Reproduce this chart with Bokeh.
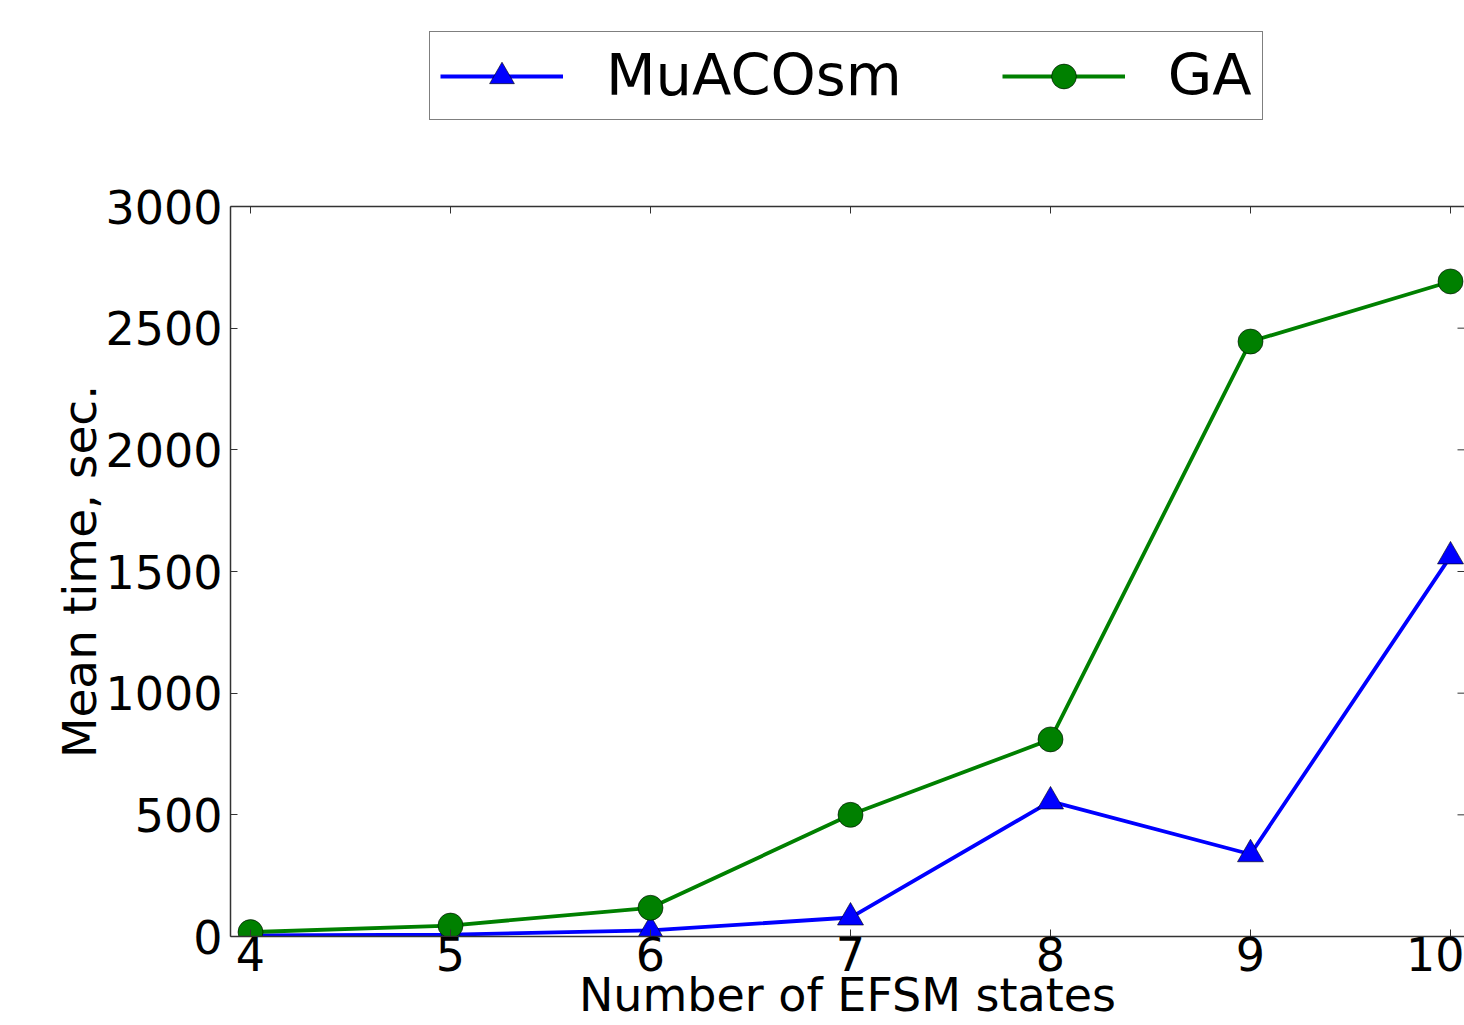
from bokeh.plotting import figure
from bokeh.layouts import column
from bokeh.models import Legend, LegendItem, LinearAxis, FixedTicker, Range1d
from bokeh.embed import file_html
from bokeh.resources import INLINE

# ---- data ----
states = [4, 5, 6, 7, 8, 9, 10]
muacosm = [4, 8, 25, 78, 555, 338, 1562]
ga = [18, 45, 118, 500, 810, 2445, 2692]
y_ticks = [0, 500, 1000, 1500, 2000, 2500, 3000]
series_names = ["MuACOsm", "GA"]
x_label = "Number of EFSM states"
y_label = "Mean time, sec."

FONT = "DejaVu Sans"
BLUE = "#0000ff"
GREEN = "#008000"
SPINE = "#333333"

X0, X1 = 3.9, 10.07
Y0, Y1 = 0, 3000
FRAME_W, FRAME_H = 1234, 730
FRAME_LEFT = 230
TICK = 7  # px, inward ticks

LINE_W = 3.8
TRI = dict(marker="triangle", size=26, fill_color=BLUE, line_color="black", line_width=0.6)
CIR = dict(marker="circle", size=25, fill_color=GREEN, line_color="black", line_width=0.6)

# ---------------- legend strip ----------------
LEG_H = 150
leg = figure(width=1464, height=LEG_H, x_range=Range1d(100, 101), y_range=Range1d(100, 101),
             output_backend="svg", toolbar_location=None,
             x_axis_location=None, y_axis_location=None, min_border=0)
leg.outline_line_color = None
leg.grid.visible = False
# same series, kept outside this strip's view: only their legend keys show
kl1 = leg.line(states, muacosm, line_color=BLUE, line_width=LINE_W)
ks1 = leg.scatter(states, muacosm, **TRI)
kl2 = leg.line(states, ga, line_color=GREEN, line_width=LINE_W)
ks2 = leg.scatter(states, ga, **CIR)
legend = Legend(items=[LegendItem(label=series_names[0], renderers=[kl1, ks1]),
                       LegendItem(label=series_names[1], renderers=[kl2, ks2])],
                orientation="horizontal", location=(429 - FRAME_LEFT, LEG_H - 120),
                label_text_font=FONT, label_text_font_size="57.5px",
                label_text_color="black",
                glyph_width=123, glyph_height=62, label_standoff=43,
                spacing=100, padding=10, margin=0,
                border_line_color="black", border_line_width=1.5,
                background_fill_color="white", background_fill_alpha=1)
leg.add_layout(legend, "center")

# ---------------- main plot ----------------
p = figure(width=1464, height=1025 - LEG_H,
           x_range=Range1d(X0, X1), y_range=Range1d(Y0, Y1),
           output_backend="svg", toolbar_location=None,
           min_border_left=FRAME_LEFT, min_border_right=0,
           min_border_top=206 - LEG_H, min_border_bottom=89)
p.outline_line_color = None
p.grid.visible = False

for ax in (p.xaxis[0], p.yaxis[0]):
    ax.major_label_text_font = FONT
    ax.major_label_text_font_size = "46px"
    ax.major_label_text_color = "black"
    ax.major_tick_in = TICK
    ax.major_tick_out = 0
    ax.minor_tick_line_color = None
    ax.axis_line_color = SPINE
    ax.axis_line_width = 1.5
    ax.major_tick_line_color = SPINE
    ax.major_tick_line_width = 1
    ax.axis_label_text_font = FONT
    ax.axis_label_text_font_size = "46px"
    ax.axis_label_text_font_style = "normal"
    ax.axis_label_text_color = "black"

p.xaxis[0].ticker = FixedTicker(ticks=states)
p.xaxis[0].major_label_standoff = 0
p.xaxis[0].axis_label = x_label
p.xaxis[0].axis_label_standoff = -6

p.yaxis[0].ticker = FixedTicker(ticks=y_ticks)
p.yaxis[0].major_label_standoff = 8
p.yaxis[0].axis_label = y_label
p.yaxis[0].axis_label_text_font_size = "47px"
p.yaxis[0].axis_label_standoff = -5

# top spine (ticks drawn below)
top = LinearAxis(ticker=FixedTicker(ticks=[]), axis_line_color=SPINE, axis_line_width=1.5,
                 major_tick_in=0, major_tick_out=0, minor_tick_line_color=None)
p.add_layout(top, "above")

# inward ticks along the top and right edges, at the same tick positions
dy = TICK * (Y1 - Y0) / FRAME_H
dx = TICK * (X1 - X0) / FRAME_W
p.segment(x0=states, y0=[Y1] * len(states), x1=states, y1=[Y1 - dy] * len(states),
          line_color=SPINE, line_width=1)
p.segment(x0=[X1] * len(y_ticks), y0=y_ticks, x1=[X1 - dx] * len(y_ticks), y1=y_ticks,
          line_color=SPINE, line_width=1)

p.line(states, muacosm, line_color=BLUE, line_width=LINE_W)
p.scatter(states, muacosm, **TRI)
p.line(states, ga, line_color=GREEN, line_width=LINE_W)
p.scatter(states, ga, **CIR)

layout = column(leg, p, spacing=0)
open("out.html", "w").write(file_html(layout, INLINE))
